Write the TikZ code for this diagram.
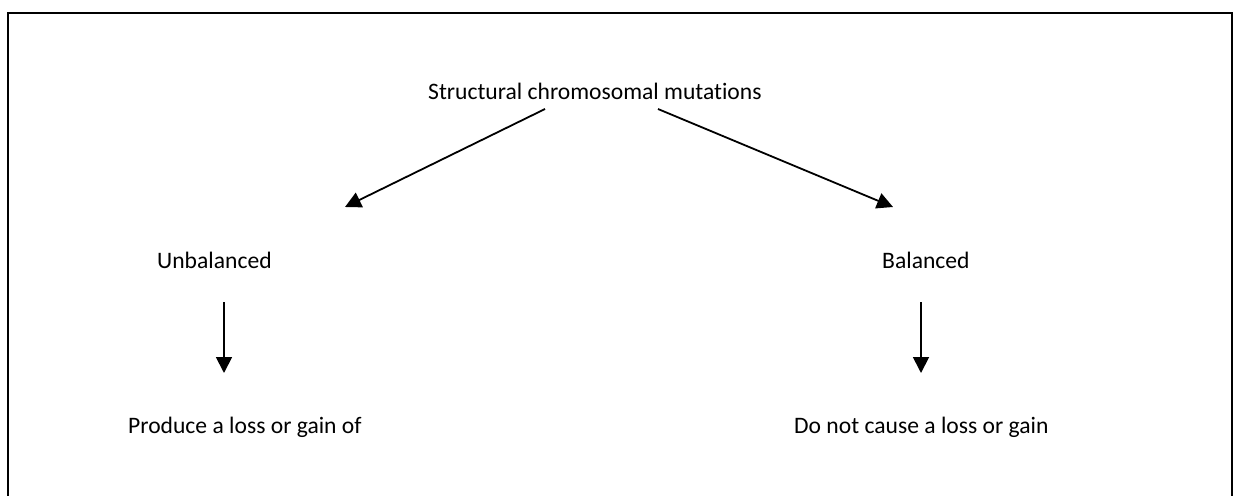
\documentclass[tikz,border=0pt]{standalone}
\usepackage{fontspec}
\setmainfont{Carlito}[Ligatures=NoCommon]
\usetikzlibrary{arrows.meta}
\begin{document}
\begin{tikzpicture}[x=1pt,y=-1pt,
  lbl/.style={anchor=base west,inner sep=0pt,font=\fontsize{23.6}{27}\selectfont},
  conn/.style={line width=1.8pt,-{Triangle[length=16pt,width=16pt]}}]
\useasboundingbox (0,0) rectangle (1238,495);
\begin{scope}
\clip (0,0) rectangle (1238,495);
\draw[line width=2pt] (8,530) -- (8,13) -- (1232,13) -- (1232,530);
\end{scope}
\node[lbl] (top) at (428,99) {Structural chromosomal mutations};
\node[lbl] (unb) at (157,268) {Unbalanced};
\node[lbl] (bal) at (882,268) {Balanced};
\node[lbl] (prod) at (128,433) {Produce a loss or gain of};
\node[lbl] (donot) at (794,433) {Do not cause a loss or gain};
\coordinate (ls) at (545,109);
\coordinate (le) at (345,207);
\coordinate (rs) at (658,109);
\coordinate (re) at (893,207);
\coordinate (ub) at (224,302);
\coordinate (ue) at (224,373);
\coordinate (bb) at (921,302);
\coordinate (be) at (921,373);
\draw[conn] (ls) -- (le);
\draw[conn] (rs) -- (re);
\draw[conn] (ub) -- (ue);
\draw[conn] (bb) -- (be);
\end{tikzpicture}
\end{document}
